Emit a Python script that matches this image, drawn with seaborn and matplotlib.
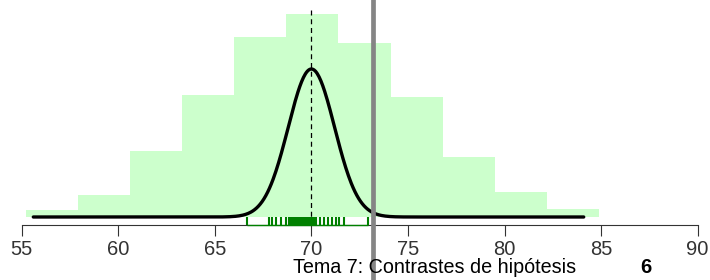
import numpy as np
import matplotlib
matplotlib.use("Agg")
import matplotlib.pyplot as plt
import seaborn as sns

sns.set_style("white")
plt.rcParams['font.family'] = ['Liberation Sans', 'DejaVu Sans']

# population histogram (bin edges + counts)
bin_edges = [55.2, 57.9, 60.6, 63.3, 66.0, 68.7, 71.4, 74.1, 76.8, 79.5, 82.2, 84.9]
bin_counts = [7, 22, 66, 122, 180, 203, 174, 120, 60, 25, 8]

# sampling distribution of the mean
mu = 70.0
sigma = 1.2
curve_from, curve_to = 55.6, 84.1

# sample means shown as a rug
sample_means = [66.66, 67.79, 67.97, 68.18, 68.43, 68.66, 68.86,
                68.95, 68.99, 69.03, 69.07, 69.11, 69.15, 69.19, 69.23, 69.27,
                69.31, 69.35, 69.39, 69.43, 69.47, 69.51, 69.55, 69.59, 69.63,
                69.67, 69.71, 69.75, 69.79, 69.83, 69.87, 69.91, 69.95, 69.99,
                70.03, 70.07, 70.11, 70.15,
                70.25, 70.45, 70.64, 70.85, 71.05, 71.28, 71.45, 71.67,
                72.91]

observed = 73.17
xticks = [55, 60, 65, 70, 75, 80, 85, 90]

fig = plt.figure(figsize=(7.1, 2.8), dpi=100)
ax = fig.add_axes([0, 55 / 280, 1, 225 / 280])

centers = [(a + b) / 2 for a, b in zip(bin_edges[:-1], bin_edges[1:])]
sns.histplot(x=centers, weights=bin_counts, bins=bin_edges, ax=ax,
             color='#ccffcc', alpha=1, linewidth=0, zorder=1)

ax.set_xlim(53.876, 90.638)
ax.set_ylim(-8, 217)

# normal curve on its own scale
ax2 = ax.twinx()
xs = np.linspace(curve_from, curve_to, 600)
dens = np.exp(-0.5 * ((xs - mu) / sigma) ** 2) / (sigma * np.sqrt(2 * np.pi))
sns.lineplot(x=xs, y=dens, ax=ax2, color='black', lw=2.4)
peak = 1 / (sigma * np.sqrt(2 * np.pi))
ax2.set_ylim(-8 / 148 * peak, 217 / 148 * peak)
ax2.set_xlim(ax.get_xlim())
ax2.axis('off')

# dashed line at the hypothesised mean
ax.vlines(mu, -8, 208, colors='black', linestyles=(0, (4, 3)), lw=0.9, zorder=3)

# rug of sample means, R style with a line joining first and last
sns.rugplot(x=sample_means, ax=ax, height=0.036, color='#008000', linewidth=1.5,
            zorder=4)
ax.hlines(-8, min(sample_means), max(sample_means), colors='#008000', lw=1, zorder=5,
          clip_on=False)

# observed value
ax2.axvline(observed, ymin=-0.25, ymax=1.1, color='#858585', lw=3.4, zorder=10,
            clip_on=False)

for s in ['top', 'left', 'right']:
    ax.spines[s].set_visible(False)
ax.spines['bottom'].set_bounds(55, 90)
ax.spines['bottom'].set_color('#333333')
ax.spines['bottom'].set_linewidth(0.8)
ax.set_xticks(xticks)
ax.set_yticks([])
ax.tick_params(axis='x', direction='out', length=7.6, width=0.8, color='#333333',
               labelsize=14.5, labelcolor='#333333', pad=3, bottom=True)
ax.set_xlabel('')
ax.set_ylabel('')

fig.text(293 / 710, 0.025, 'Tema 7: Contrastes de hipótesis', fontsize=14.2,
         color='black', ha='left', va='baseline', zorder=20)
fig.text(646 / 710, 0.025, '6', fontsize=14.5, fontweight='bold', color='black',
         ha='center', va='baseline', zorder=20)

fig.savefig('out.png', dpi=100)
